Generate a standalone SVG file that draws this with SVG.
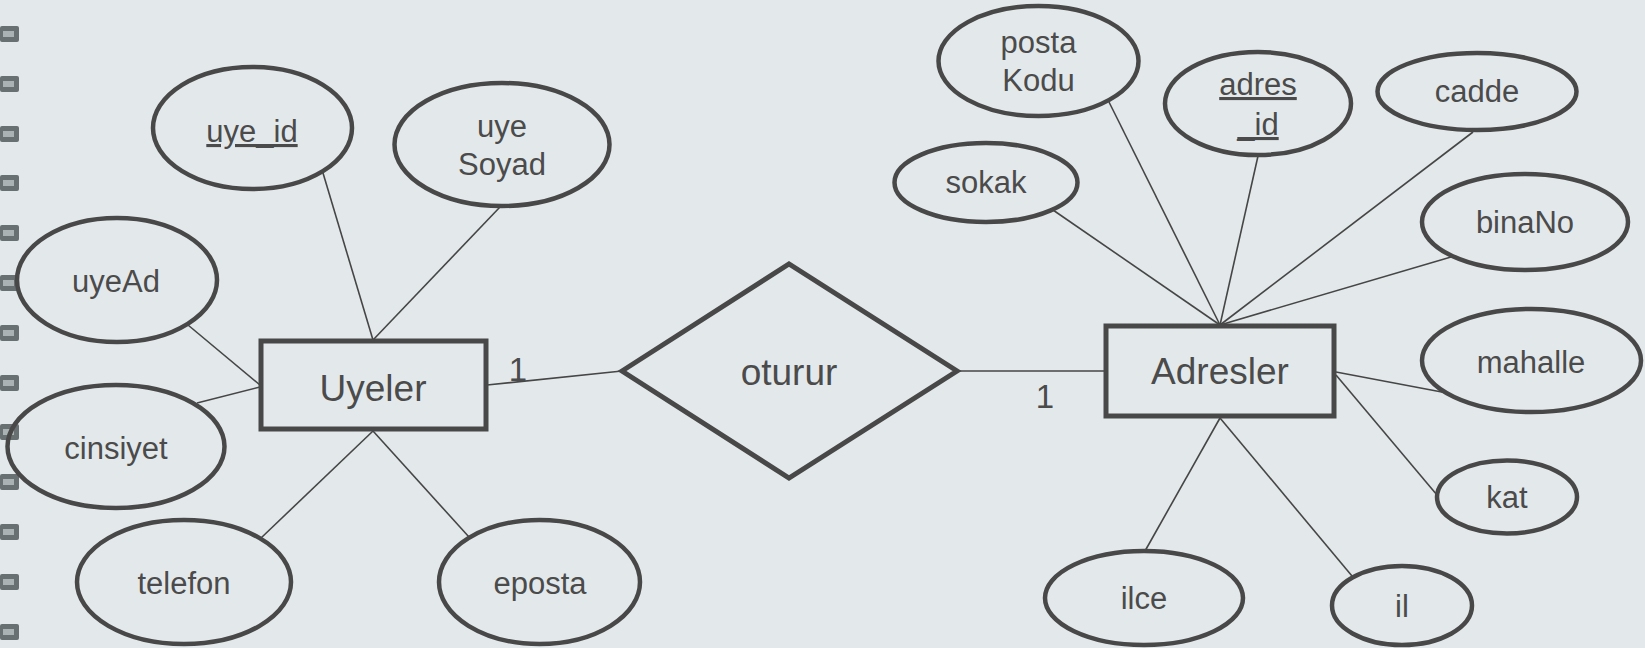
<svg xmlns="http://www.w3.org/2000/svg" width="1645" height="648" viewBox="0 0 1645 648">
<style>
.bg{fill:#e3e9eb}
.attr ellipse{fill:none;stroke:#484848;stroke-width:4.5}
.ent rect{fill:none;stroke:#484848;stroke-width:5}
.rel polygon{fill:none;stroke:#484848;stroke-width:5;stroke-linejoin:miter}
text{font-family:"Liberation Sans",Arial,sans-serif;fill:#4b4b4b;text-anchor:middle}
.a{font-size:31px}
.e{font-size:37px}
.c{font-size:33px}
.u{text-decoration:underline}
#connectors line{stroke:#464646;stroke-width:1.6}
.ring{fill:#687072}
.ringc{fill:#aab2b4}
</style>
<rect class="bg" x="0" y="0" width="1645" height="648"/>
<g id="binding">
<rect class="ring" x="0" y="26" width="19" height="16" rx="2"/><rect class="ringc" x="3" y="31" width="11" height="6"/>
<rect class="ring" x="0" y="76" width="19" height="16" rx="2"/><rect class="ringc" x="3" y="81" width="11" height="6"/>
<rect class="ring" x="0" y="126" width="19" height="16" rx="2"/><rect class="ringc" x="3" y="131" width="11" height="6"/>
<rect class="ring" x="0" y="175" width="19" height="16" rx="2"/><rect class="ringc" x="3" y="180" width="11" height="6"/>
<rect class="ring" x="0" y="225" width="19" height="16" rx="2"/><rect class="ringc" x="3" y="230" width="11" height="6"/>
<rect class="ring" x="0" y="275" width="19" height="16" rx="2"/><rect class="ringc" x="3" y="280" width="11" height="6"/>
<rect class="ring" x="0" y="325" width="19" height="16" rx="2"/><rect class="ringc" x="3" y="330" width="11" height="6"/>
<rect class="ring" x="0" y="375" width="19" height="16" rx="2"/><rect class="ringc" x="3" y="380" width="11" height="6"/>
<rect class="ring" x="0" y="424" width="19" height="16" rx="2"/><rect class="ringc" x="3" y="429" width="11" height="6"/>
<rect class="ring" x="0" y="474" width="19" height="16" rx="2"/><rect class="ringc" x="3" y="479" width="11" height="6"/>
<rect class="ring" x="0" y="524" width="19" height="16" rx="2"/><rect class="ringc" x="3" y="529" width="11" height="6"/>
<rect class="ring" x="0" y="574" width="19" height="16" rx="2"/><rect class="ringc" x="3" y="579" width="11" height="6"/>
<rect class="ring" x="0" y="624" width="19" height="16" rx="2"/><rect class="ringc" x="3" y="629" width="11" height="6"/>
</g>
<g id="connectors">
<line x1="323" y1="173" x2="373" y2="340"/>
<line x1="500" y1="207" x2="373" y2="340"/>
<line x1="188" y1="325" x2="260" y2="385"/>
<line x1="197" y1="403" x2="260" y2="387"/>
<line x1="261" y1="538" x2="373" y2="431"/>
<line x1="469" y1="537" x2="373" y2="431"/>
<line x1="487" y1="385" x2="622" y2="371"/>
<line x1="957" y1="371" x2="1105" y2="371"/>
<line x1="1053" y1="210" x2="1220" y2="325"/>
<line x1="1109" y1="102" x2="1220" y2="325"/>
<line x1="1258" y1="156" x2="1220" y2="325"/>
<line x1="1473" y1="132" x2="1220" y2="325"/>
<line x1="1451" y1="257" x2="1220" y2="325"/>
<line x1="1336" y1="372" x2="1447" y2="393"/>
<line x1="1336" y1="375" x2="1437" y2="495"/>
<line x1="1220" y1="418" x2="1145" y2="551"/>
<line x1="1220" y1="418" x2="1352" y2="576"/>
<text class="c" x="518" y="381">1</text>
<text class="c" x="1045" y="408">1</text>
</g>
<g id="uyeler" class="ent"><rect x="261" y="341" width="225" height="88"/><text class="e" x="373" y="401">Uyeler</text></g>
<g id="adresler" class="ent"><rect x="1106" y="326" width="228" height="90"/><text class="e" x="1220" y="384">Adresler</text></g>
<g id="oturur" class="rel"><polygon points="622,371 789,264 957,371 789,478"/><text class="e" x="789" y="385">oturur</text></g>
<g id="uye_id" class="attr"><ellipse cx="252.5" cy="128" rx="99.5" ry="61"/><text class="a u" x="252" y="142">uye_id</text></g>
<g id="uyeSoyad" class="attr"><ellipse cx="502" cy="144.5" rx="107.5" ry="61.5"/><text class="a" x="502" y="137">uye</text><text class="a" x="502" y="175">Soyad</text></g>
<g id="uyeAd" class="attr"><ellipse cx="117" cy="280" rx="100" ry="62"/><text class="a" x="116" y="292">uyeAd</text></g>
<g id="cinsiyet" class="attr"><ellipse cx="116" cy="446.5" rx="108.5" ry="61.5"/><text class="a" x="116" y="459">cinsiyet</text></g>
<g id="telefon" class="attr"><ellipse cx="184" cy="582" rx="107" ry="62"/><text class="a" x="184" y="594">telefon</text></g>
<g id="eposta" class="attr"><ellipse cx="539.5" cy="582" rx="100.5" ry="62"/><text class="a" x="540" y="594">eposta</text></g>
<g id="postaKodu" class="attr"><ellipse cx="1038.5" cy="61" rx="100" ry="55"/><text class="a" x="1038.5" y="53">posta</text><text class="a" x="1038.5" y="91">Kodu</text></g>
<g id="adres_id" class="attr"><ellipse cx="1258" cy="103.5" rx="93" ry="51.5"/><text class="a u" x="1258" y="95">adres</text><text class="a u" x="1258" y="135">_id</text></g>
<g id="cadde" class="attr"><ellipse cx="1477" cy="91.5" rx="99.5" ry="38.5"/><text class="a" x="1477" y="102">cadde</text></g>
<g id="sokak" class="attr"><ellipse cx="986" cy="182.5" rx="91.5" ry="39.5"/><text class="a" x="986" y="193">sokak</text></g>
<g id="binaNo" class="attr"><ellipse cx="1525" cy="222" rx="103" ry="48"/><text class="a" x="1525" y="233">binaNo</text></g>
<g id="mahalle" class="attr"><ellipse cx="1531.5" cy="360.5" rx="109.5" ry="51.5"/><text class="a" x="1531" y="373">mahalle</text></g>
<g id="kat" class="attr"><ellipse cx="1507" cy="497" rx="70" ry="36.5"/><text class="a" x="1507" y="508">kat</text></g>
<g id="ilce" class="attr"><ellipse cx="1144" cy="598" rx="99" ry="47"/><text class="a" x="1144" y="609">ilce</text></g>
<g id="il" class="attr"><ellipse cx="1402" cy="605.5" rx="70" ry="39.5"/><text class="a" x="1402" y="617">il</text></g>
</svg>
